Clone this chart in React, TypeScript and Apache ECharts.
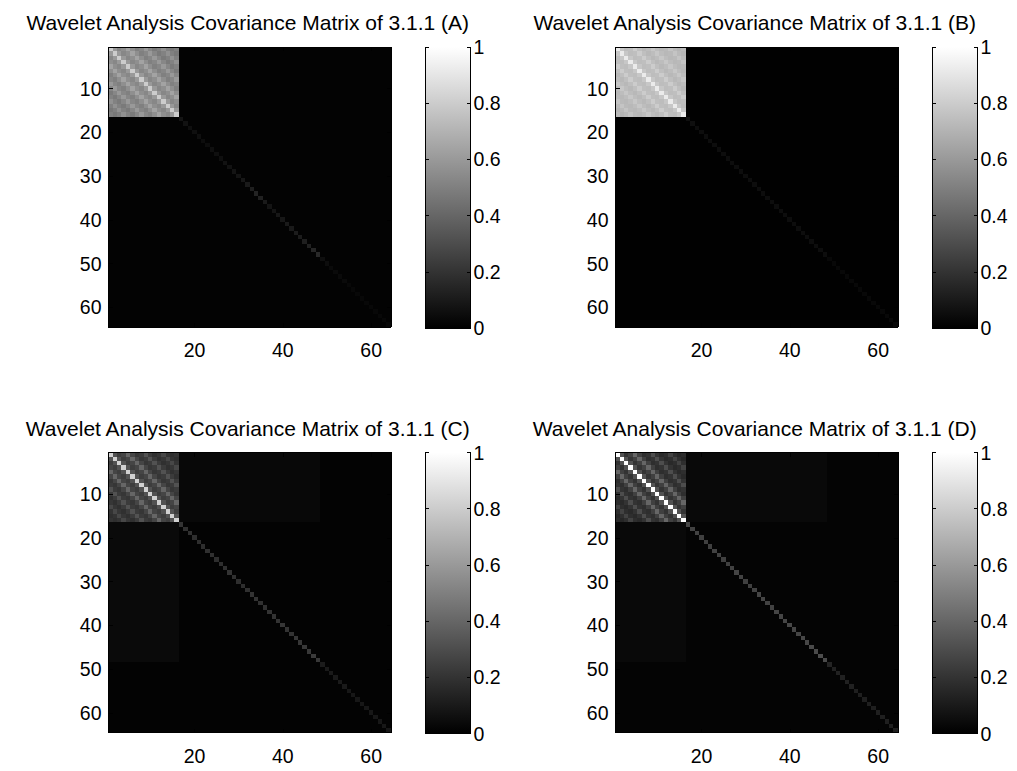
import React, { useEffect, useRef } from "react";
import * as echarts from "echarts";

const N = 64;
const BLOCK = 16;
const BAND_END = 48;

const titles = [
  "Wavelet Analysis Covariance Matrix of 3.1.1 (A)",
  "Wavelet Analysis Covariance Matrix of 3.1.1 (B)",
  "Wavelet Analysis Covariance Matrix of 3.1.1 (C)",
  "Wavelet Analysis Covariance Matrix of 3.1.1 (D)",
];

// value of cells in the top-left 16x16 block, by |row - col|
const blockLagA = [0.8, 0.6, 0.53, 0.56, 0.64, 0.56, 0.5, 0.53, 0.6, 0.53, 0.48, 0.51, 0.57, 0.5, 0.47, 0.5];
const blockLagB = [0.92, 0.78, 0.74, 0.75, 0.8, 0.75, 0.72, 0.74, 0.78, 0.74, 0.72, 0.73, 0.77, 0.73, 0.71, 0.73];
const blockLagC = [0.82, 0.32, 0.24, 0.27, 0.4, 0.27, 0.21, 0.23, 0.32, 0.23, 0.19, 0.21, 0.28, 0.2, 0.18, 0.2];
const blockLagD = [1.0, 0.32, 0.2, 0.25, 0.4, 0.25, 0.18, 0.2, 0.3, 0.2, 0.16, 0.18, 0.26, 0.18, 0.15, 0.17];

// diagonal values for rows 17..64
const diagTailA = [
  0.08, 0.07, 0.06, 0.06, 0.06, 0.05, 0.05, 0.06, 0.06, 0.06, 0.07, 0.07, 0.08, 0.08, 0.09, 0.1,
  0.12, 0.14, 0.13, 0.1, 0.08, 0.08, 0.09, 0.09, 0.1, 0.1, 0.11, 0.11, 0.12, 0.13, 0.15, 0.16,
  0.06, 0.05, 0.04, 0.04, 0.04, 0.04, 0.03, 0.03, 0.03, 0.03, 0.03, 0.03, 0.03, 0.03, 0.03, 0.03,
];
const diagTailB = [
  0.06, 0.06, 0.05, 0.05, 0.05, 0.05, 0.05, 0.05, 0.05, 0.05, 0.05, 0.05, 0.05, 0.05, 0.05, 0.05,
  0.05, 0.05, 0.05, 0.05, 0.05, 0.05, 0.05, 0.05, 0.05, 0.05, 0.05, 0.05, 0.05, 0.05, 0.05, 0.05,
  0.03, 0.03, 0.03, 0.03, 0.03, 0.03, 0.03, 0.03, 0.03, 0.03, 0.03, 0.03, 0.03, 0.03, 0.03, 0.03,
];
const diagTailC = [
  0.2, 0.19, 0.19, 0.18, 0.18, 0.18, 0.19, 0.19, 0.18, 0.18, 0.19, 0.2, 0.19, 0.18, 0.18, 0.19,
  0.2, 0.2, 0.19, 0.19, 0.2, 0.2, 0.2, 0.21, 0.2, 0.2, 0.21, 0.21, 0.22, 0.22, 0.23, 0.22,
  0.11, 0.1, 0.1, 0.1, 0.1, 0.1, 0.09, 0.09, 0.09, 0.09, 0.09, 0.09, 0.09, 0.09, 0.09, 0.09,
];
const diagTailD = [
  0.27, 0.26, 0.26, 0.25, 0.25, 0.25, 0.26, 0.26, 0.25, 0.25, 0.26, 0.27, 0.26, 0.25, 0.25, 0.26,
  0.27, 0.27, 0.26, 0.26, 0.27, 0.27, 0.27, 0.28, 0.27, 0.27, 0.28, 0.28, 0.29, 0.29, 0.3, 0.29,
  0.14, 0.13, 0.13, 0.13, 0.13, 0.13, 0.12, 0.12, 0.12, 0.12, 0.12, 0.12, 0.12, 0.12, 0.12, 0.12,
];

// [rows 1-16 x cols 17-48, rows 17-48 x cols 1-16, everything else]
const offBlockA = [0.01, 0.01, 0.01];
const offBlockB = [0.005, 0.005, 0.005];
const offBlockC = [0.03, 0.04, 0.012];
const offBlockD = [0.035, 0.035, 0.015];

const colorbarTicks = [0, 0.2, 0.4, 0.6, 0.8, 1];

const panels = [
  { title: titles[0], lag: blockLagA, diag: diagTailA, off: offBlockA },
  { title: titles[1], lag: blockLagB, diag: diagTailB, off: offBlockB },
  { title: titles[2], lag: blockLagC, diag: diagTailC, off: offBlockC },
  { title: titles[3], lag: blockLagD, diag: diagTailD, off: offBlockD },
];

const cats = Array.from({ length: N }, (_, i) => String(i + 1));

function buildMatrix(lag: number[], diag: number[], off: number[]) {
  const data: number[][] = [];
  for (let r = 0; r < N; r++) {
    for (let c = 0; c < N; c++) {
      let v: number;
      if (r < BLOCK && c < BLOCK) v = lag[Math.abs(r - c)];
      else if (r === c) v = diag[r - BLOCK];
      else if (r < BLOCK && c < BAND_END) v = off[0];
      else if (c < BLOCK && r < BAND_END) v = off[1];
      else v = off[2];
      data.push([c, r, v]);
    }
  }
  return data;
}

const FONT = "Arial, 'Liberation Sans', sans-serif";
const FS = 19.5;
const TFS = 21;

export default function App() {
  const ref = useRef<HTMLDivElement>(null);
  useEffect(() => {
    if (!ref.current) return;
    const chart = echarts.init(ref.current, undefined, { renderer: "svg" });

    const grids: any[] = [];
    const xAxes: any[] = [];
    const yAxes: any[] = [];
    const series: any[] = [];
    const bars: any[] = [];
    const titleOpts: any[] = [];

    const lineStyle = { color: "#000", width: 1 };
    const tickOpts = (interval: any, show = true) => ({
      show,
      inside: true,
      length: 4,
      alignWithLabel: true,
      interval,
      lineStyle,
    });
    const xInt = (i: number) => (i + 1) % 20 === 0;
    const yInt = (i: number) => (i + 1) % 10 === 0;

    panels.forEach((p, k) => {
      const col = k % 2;
      const row = Math.floor(k / 2);
      const left = 108.5 + col * 507;
      const top = 47 + row * 405.5;
      const w = 282.5;
      const h = 280;
      const cbLeft = 425 + col * 507;

      titleOpts.push({
        text: p.title,
        left: left + w / 2 - 2,
        top: top - 35,
        textAlign: "center",
        padding: 0,
        textStyle: { fontFamily: FONT, fontSize: TFS, fontWeight: "normal", color: "#000" },
      });

      grids.push({ left, top, width: w, height: h, containLabel: false });
      grids.push({ left: cbLeft, top, width: 45.5, height: h + 1, containLabel: false });
      const gH = 2 * k;
      const gC = 2 * k + 1;

      xAxes.push({
        type: "category",
        gridIndex: gH,
        data: cats,
        position: "bottom",
        z: 10,
        axisLine: { show: true, lineStyle },
        axisTick: tickOpts(xInt),
        axisLabel: {
          interval: xInt,
          margin: 13,
          color: "#000",
          fontFamily: FONT,
          fontSize: FS,
        },
        splitLine: { show: false },
      });
      xAxes.push({
        type: "category",
        gridIndex: gH,
        data: cats,
        position: "top",
        z: 10,
        axisLine: { show: true, lineStyle },
        axisTick: tickOpts(xInt),
        axisLabel: { show: false },
        splitLine: { show: false },
      });
      xAxes.push({
        type: "category",
        gridIndex: gC,
        data: [""],
        position: "bottom",
        z: 10,
        axisLine: { show: true, lineStyle },
        axisTick: { show: false },
        axisLabel: { show: false },
      });
      xAxes.push({
        type: "category",
        gridIndex: gC,
        data: [""],
        position: "top",
        z: 10,
        axisLine: { show: true, lineStyle },
        axisTick: { show: false },
        axisLabel: { show: false },
      });

      yAxes.push({
        type: "category",
        gridIndex: gH,
        data: cats,
        inverse: true,
        position: "left",
        z: 10,
        axisLine: { show: true, lineStyle },
        axisTick: tickOpts(yInt),
        axisLabel: {
          interval: yInt,
          margin: 7,
          color: "#000",
          fontFamily: FONT,
          fontSize: FS,
        },
        splitLine: { show: false },
      });
      yAxes.push({
        type: "category",
        gridIndex: gH,
        data: cats,
        inverse: true,
        position: "right",
        z: 10,
        axisLine: { show: true, lineStyle },
        axisTick: tickOpts(yInt),
        axisLabel: { show: false },
        splitLine: { show: false },
      });
      yAxes.push({
        type: "value",
        gridIndex: gC,
        min: colorbarTicks[0],
        max: colorbarTicks[colorbarTicks.length - 1],
        interval: 0.2,
        position: "right",
        z: 10,
        axisLine: { show: true, lineStyle },
        axisTick: { show: true, inside: true, length: 4, lineStyle },
        axisLabel: {
          margin: 3,
          color: "#000",
          fontFamily: FONT,
          fontSize: FS,
        },
        splitLine: { show: false },
      });
      yAxes.push({
        type: "value",
        gridIndex: gC,
        min: colorbarTicks[0],
        max: colorbarTicks[colorbarTicks.length - 1],
        interval: 0.2,
        position: "left",
        z: 10,
        axisLine: { show: true, lineStyle },
        axisTick: { show: true, inside: true, length: 4, lineStyle },
        axisLabel: { show: false },
        splitLine: { show: false },
      });

      series.push({
        type: "heatmap",
        xAxisIndex: 4 * k,
        yAxisIndex: 4 * k,
        data: buildMatrix(p.lag, p.diag, p.off),
        progressive: 0,
        emphasis: { disabled: true },
        itemStyle: { borderWidth: 0 },
      });
      bars.push({
        type: "bar",
        xAxisIndex: 4 * k + 2,
        yAxisIndex: 4 * k + 2,
        data: [colorbarTicks[colorbarTicks.length - 1]],
        barWidth: "100%",
        silent: true,
        itemStyle: {
          color: new echarts.graphic.LinearGradient(0, 1, 0, 0, [
            { offset: 0, color: "#000000" },
            { offset: 1, color: "#ffffff" },
          ]),
        },
      });
    });

    chart.setOption({
      animation: false,
      backgroundColor: "#ffffff",
      title: titleOpts,
      grid: grids,
      xAxis: xAxes,
      yAxis: yAxes,
      visualMap: {
        type: "continuous",
        show: false,
        min: 0,
        max: 1,
        seriesIndex: [0, 1, 2, 3],
        inRange: { color: ["#000000", "#ffffff"] },
      },
      series: [...series, ...bars],
    });
    return () => chart.dispose();
  }, []);
  return (
    <div
      ref={ref}
      style={{
        position: "absolute",
        left: 0,
        top: 0,
        width: 1017,
        height: 771,
        background: "#fff",
        shapeRendering: "crispEdges",
      } as any}
    />
  );
}
